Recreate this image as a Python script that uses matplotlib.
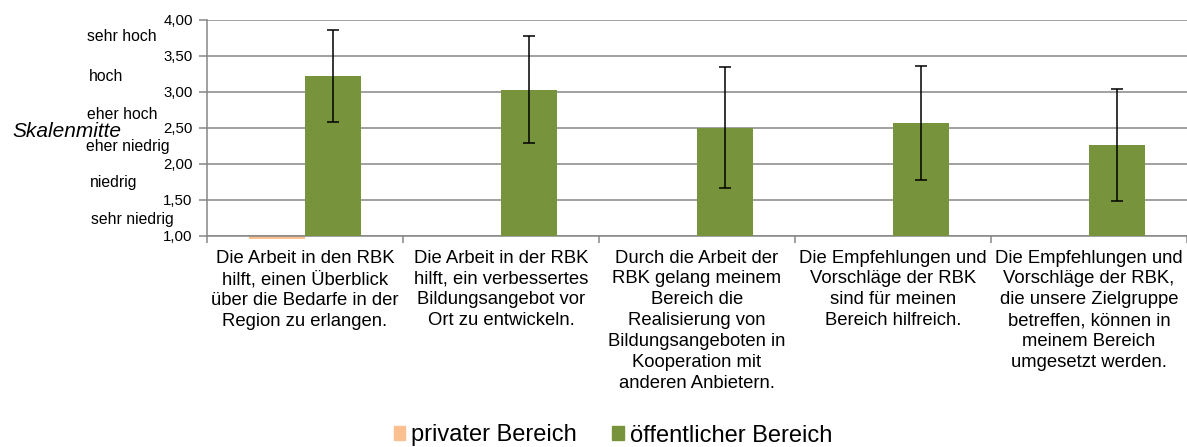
import matplotlib
matplotlib.use("Agg")
import matplotlib.pyplot as plt
import numpy as np
from matplotlib.patches import Patch

categories = [
    "Die Arbeit in den RBK\nhilft, einen Überblick\nüber die Bedarfe in der\nRegion zu erlangen.",
    "Die Arbeit in der RBK\nhilft, ein verbessertes\nBildungsangebot vor\nOrt zu entwickeln.",
    "Durch die Arbeit der\nRBK gelang meinem\nBereich die\nRealisierung von\nBildungsangeboten in\nKooperation mit\nanderen Anbietern.",
    "Die Empfehlungen und\nVorschläge der RBK\nsind für meinen\nBereich hilfreich.",
    "Die Empfehlungen und\nVorschläge der RBK,\ndie unsere Zielgruppe\nbetreffen, können in\nmeinem Bereich\numgesetzt werden.",
]
privat = [0.96, np.nan, np.nan, np.nan, np.nan]
oeffentlich = [3.22, 3.03, 2.50, 2.56, 2.26]
oeff_err = [0.64, 0.745, 0.84, 0.79, 0.78]
yticks = [1.0, 1.5, 2.0, 2.5, 3.0, 3.5, 4.0]
scale_labels = ["sehr hoch", "hoch", "eher hoch", "eher niedrig", "niedrig", "sehr niedrig"]
scale_pos = [(87, 36.7), (89, 76.7), (87, 114), (86, 146), (90, 183), (91, 219)]

W, H = 1187, 447
plt.rcParams['font.family'] = ['Liberation Sans', 'DejaVu Sans']
fig = plt.figure(figsize=(W / 100, H / 100), dpi=100)
ax = fig.add_axes([207 / W, 1 - 235.7 / H, 1 - 207 / W, (235.7 - 19.7) / H])

gray = "#868686"
orange = "#FAC090"
green = "#77933C"
x = np.arange(len(categories)) + 0.5
bw = 0.285

pv = np.array(privat)
ax.bar(x - bw / 2, pv - 1, bottom=1, width=bw, color=orange, clip_on=False, zorder=2)
ov = np.array(oeffentlich)
ax.bar(x + bw / 2, ov - 1, bottom=1, width=bw, color=green, zorder=3)
ax.errorbar(x + bw / 2, ov, yerr=oeff_err, fmt='none', ecolor='black',
            elinewidth=1.1, capsize=4.3, capthick=1.1, zorder=4)

ax.set_xlim(0, 5)
ax.set_ylim(1, 4)
ax.set_yticks(yticks)
ax.set_yticklabels([f"{v:.2f}".replace('.', ',') for v in yticks], fontsize=10.8)
ax.yaxis.grid(True, color=gray, lw=1.1)
ax.set_axisbelow(True)

ax.set_xticks(np.arange(0, 6))
ax.set_xticklabels([])
ax.set_xticks(x, minor=True)
ax.set_xticklabels(categories, minor=True, fontsize=13.3, linespacing=1.3)
ax.tick_params(axis='x', which='major', length=5, color=gray, width=1.1, direction='out')
ax.tick_params(axis='x', which='minor', length=0, pad=10)
ax.tick_params(axis='y', length=6, color=gray, width=1.1, pad=4.3)

for s in ['top', 'right']:
    ax.spines[s].set_visible(False)
for s in ['left', 'bottom']:
    ax.spines[s].set_color(gray)
    ax.spines[s].set_linewidth(1.1)

for lab, (px, py) in zip(scale_labels, scale_pos):
    fig.text(px / W, 1 - py / H, lab, fontsize=11.3, ha='left', va='center')
fig.text(12 / W, 1 - 131.7 / H, "Skalenmitte", fontsize=15, style='italic',
         ha='left', va='center')

handles = [Patch(color=orange, label="privater Bereich"),
           Patch(color=green, label="öffentlicher Bereich")]
fig.legend(handles=handles, loc='center', bbox_to_anchor=(613 / W, 1 - 435.5 / H),
           ncol=2, frameon=False, fontsize=17, handlelength=0.5, handleheight=0.5,
           handletextpad=0.25, columnspacing=1.5, borderpad=0)

fig.savefig("out.png", dpi=100)
